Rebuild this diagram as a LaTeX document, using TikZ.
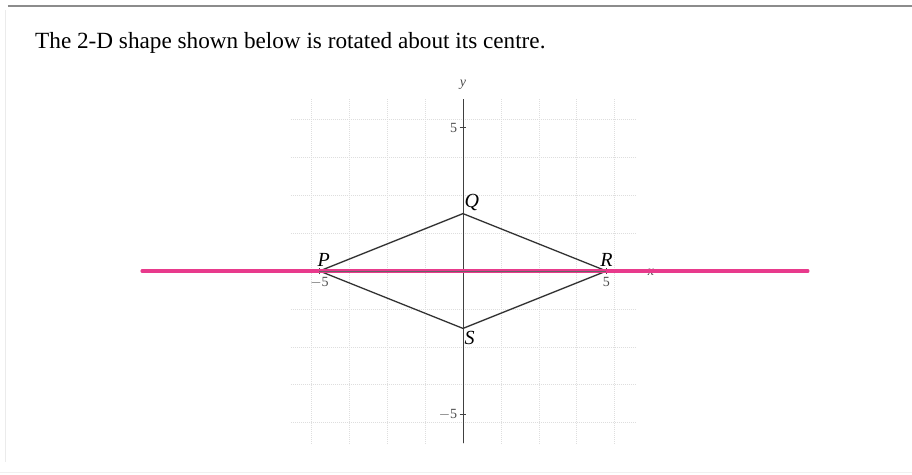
\documentclass[tikz,border=0pt]{standalone}
\usepackage{fontspec}
\setmainfont{Liberation Serif}
\usetikzlibrary{positioning,calc}
\usepackage{xcolor}
\definecolor{markpink}{RGB}{232,58,140}
\definecolor{gridgray}{RGB}{222,222,222}

\begin{document}
\begin{tikzpicture}[
    x=21.525pt, y=21.525pt,
    gridline/.style={gridgray, line width=0.5pt, densely dotted},
    axisline/.style={black!75, line width=0.7pt},
    shapeline/.style={black!80, line width=1pt},
    vlabel/.style={font=\fontsize{15}{15}\selectfont\itshape, inner sep=1pt},
    ticklabel/.style={font=\fontsize{10.5}{11}\selectfont, inner sep=1pt, black!70},
    penline/.style={markpink, line width=2.3pt}
]
\useasboundingbox (-16.132,-7.073) rectangle (15.645,9.443);

% frame of the page
\draw[black!45, line width=0.8pt] (-15.854,9.233) -- (15.645,9.233);
\draw[black!8, line width=0.5pt] (-15.958,9.094) -- (-15.958,-6.655);
\draw[black!6, line width=0.5pt] (-16.132,-7.0) -- (15.645,-7.0);

\node[anchor=base west, inner sep=0pt, font=\fontsize{17.4}{20}\selectfont] (title)
    at (-14.913,7.770) {The 2-D shape shown below is rotated about its centre.};

% grid and axes
\draw[gridline] (-6,-6) grid (6,6);
\draw[axisline] (-6,0) -- (6.3,0);
\draw[axisline] (0,-6) -- (0,6);
\node[ticklabel] (xlab) at (6.55,-0.05) {\itshape x};
\node[ticklabel] (ylab) at (0,6.5) {\itshape y};
\foreach \v/\t in {5/5,-5/$-$5} {
    \draw[axisline] (\v,-0.12) -- (\v,0.12);
    \draw[axisline] (-0.12,\v) -- (0.12,\v);
    \node[ticklabel, left=1pt] at (-0.1,\v) {\t};
    \node[ticklabel, below=1pt] at (\v,-0.12) {\t};
}

% the shape
\coordinate (P) at (-5,0);
\coordinate (Q) at (0,2);
\coordinate (R) at (5,0);
\coordinate (S) at (0,-2);
\draw[shapeline] (P) -- (Q) -- (R) -- (S) -- cycle;
\node[vlabel, above left=2.5pt and -9pt] (lP) at (P) {P};
\node[vlabel, above right=1pt and 0pt] (lQ) at (Q) {Q};
\node[vlabel, above=2.5pt] (lR) at (R) {R};
\node[vlabel, below right=1pt and 0pt] (lS) at (S) {S};

% pen mark along the x-axis
\coordinate (penL) at (-11.185,0);
\coordinate (penR) at (12.02,0);
\draw[penline, line cap=round] (penL) -- (penR);
\draw[black!60, line width=0.5pt] (P) -- (R);
\end{tikzpicture}
\end{document}
